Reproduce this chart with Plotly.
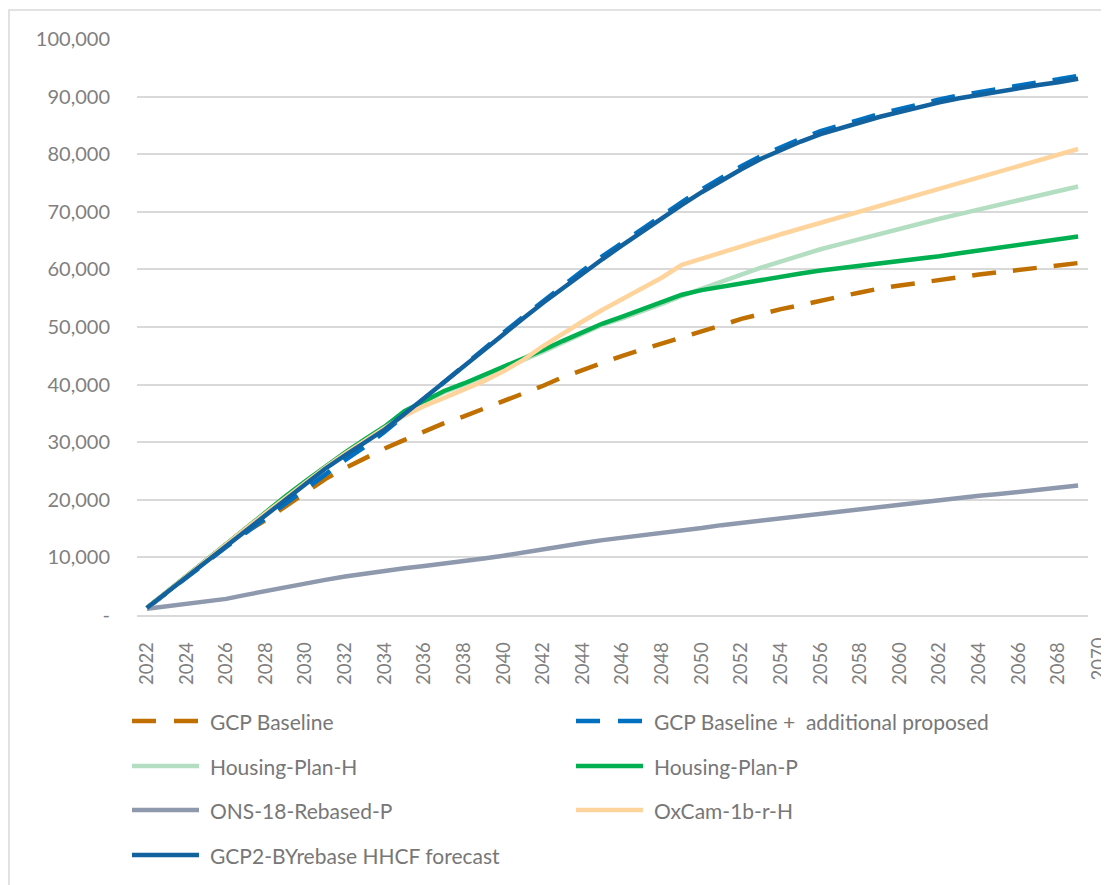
import plotly.graph_objects as go

years = list(range(2022, 2070))

gcp_baseline = [
    1200, 4000, 6700, 9400, 12000, 14400, 16500, 18800, 21300, 23600,
    25500, 27300, 28900, 30400, 31900, 33300, 34500, 35800, 37000, 38400,
    39800, 41300, 42600, 43900, 45000, 46100, 47100, 48100, 49200, 50300,
    51400, 52300, 53100, 53800, 54600, 55300, 56000, 56700, 57200, 57700,
    58200, 58700, 59100, 59500, 59900, 60300, 60700, 61100,
]
gcp_additional = [
    1200, 3900, 6600, 9300, 11800, 14300, 16800, 19400, 21900, 24500,
    26900, 29200, 31800, 34700, 37600, 40500, 43400, 46200, 49000, 51800,
    54500, 57200, 59800, 62300, 64700, 67100, 69400, 71700, 73900, 76000,
    77900, 79700, 81300, 82700, 84000, 85100, 86000, 87000, 87900, 88700,
    89500, 90200, 90800, 91400, 92000, 92500, 93000, 93600,
]
housing_h = [
    1200, 4000, 6800, 9600, 12400, 15200, 17900, 20600, 23200, 25800,
    28200, 30500, 32700, 35300, 37100, 38700, 40000, 41400, 42800, 44200,
    45700, 47300, 48900, 50400, 51500, 52700, 54000, 55400, 56700, 57900,
    59100, 60300, 61400, 62500, 63500, 64400, 65300, 66200, 67100, 68000,
    68800, 69600, 70400, 71200, 72000, 72800, 73600, 74400,
]
housing_p = [
    1200, 4000, 6800, 9600, 12400, 15200, 17900, 20600, 23200, 25800,
    28200, 30500, 32700, 35400, 37200, 38900, 40200, 41600, 43100, 44500,
    46000, 47600, 49200, 50600, 51800, 53000, 54200, 55600, 56400, 57000,
    57600, 58200, 58800, 59300, 59800, 60200, 60600, 61000, 61400, 61900,
    62300, 62800, 63300, 63800, 64300, 64800, 65200, 65700,
]
ons_rebased = [
    1100, 1500, 1900, 2300, 2800, 3500, 4200, 4900, 5500, 6100,
    6700, 7200, 7700, 8100, 8500, 8900, 9300, 9800, 10300, 10900,
    11400, 11900, 12500, 13000, 13400, 13900, 14300, 14700, 15100, 15600,
    16000, 16400, 16800, 17200, 17600, 18000, 18400, 18800, 19200, 19600,
    19900, 20300, 20700, 21000, 21400, 21800, 22100, 22500,
]
oxcam = [
    1200, 4000, 6700, 9500, 12300, 15000, 17700, 20400, 23000, 25600,
    28000, 30300, 32500, 34600, 36300, 37700, 39100, 40600, 42300, 44300,
    46700, 48900, 51000, 53000, 54900, 56700, 58600, 60800, 61900, 63000,
    64000, 65100, 66100, 67100, 68100, 69100, 70000, 71000, 72000, 73000,
    73900, 74900, 75900, 76900, 77900, 78900, 79900, 80900,
]
gcp2_hhcf = [
    1200, 3900, 6600, 9300, 12000, 14700, 17400, 20100, 22800, 25400,
    27700, 29900, 32200, 34900, 37700, 40500, 43300, 46000, 48800, 51500,
    54200, 56800, 59300, 61800, 64200, 66600, 68900, 71200, 73400, 75500,
    77400, 79200, 80800, 82200, 83500, 84600, 85500, 86500, 87400, 88200,
    89000, 89700, 90300, 90900, 91500, 92000, 92500, 93100,
]

series = [
    ("GCP Baseline", gcp_baseline, "#C07000", "24px,17px"),
    ("GCP Baseline + additional proposed", gcp_additional, "#0070C0", "24px,17px"),
    ("Housing-Plan-H", housing_h, "#B3DEC1", "solid"),
    ("Housing-Plan-P", housing_p, "#00B050", "solid"),
    ("ONS-18-Rebased-P", ons_rebased, "#8E99AD", "solid"),
    ("OxCam-1b-r-H", oxcam, "#FFD49C", "solid"),
    ("GCP2-BYrebase HHCF forecast", gcp2_hhcf, "#11629F", "solid"),
]
legend_labels = [
    "GCP Baseline", "GCP Baseline +  additional proposed", "Housing-Plan-H",
    "Housing-Plan-P", "ONS-18-Rebased-P", "OxCam-1b-r-H",
    "GCP2-BYrebase HHCF forecast",
]

# the page body adds an 8px margin, so work in screen pixels and subtract it
OFF = 8
W, H = 1109 - OFF, 885 - OFF
L, R, T, B = 137, 1088, 39, 615  # plot area, screen pixels


def px(x):
    return (x - L) / (R - L)


def py(y):
    return (B - y) / (B - T)


fig = go.Figure()
for name, vals, color, dash in series:
    fig.add_trace(
        go.Scatter(
            x=years,
            y=vals,
            mode="lines",
            name=name,
            line=dict(color=color, width=4.5, dash=dash),
            showlegend=False,
        )
    )

grey = "#7F7F7F"
ytick = list(range(0, 100001, 10000))
ytext = ["-" if v == 0 else f"{v:,}" for v in ytick]
xtick = list(range(2022, 2069, 2))

fig.update_layout(
    width=W,
    height=H,
    margin=dict(l=L - OFF, r=W - (R - OFF), t=T - OFF, b=H - (B - OFF)),
    paper_bgcolor="white",
    plot_bgcolor="white",
    font=dict(family="Lato, Open Sans, sans-serif", color=grey),
    xaxis=dict(
        range=[2021.5, 2069.5],
        tickvals=xtick,
        ticktext=[str(v) for v in xtick],
        tickangle=-90,
        tickfont=dict(size=18.5, color=grey),
        ticklabelstandoff=18,
        showgrid=False,
        showline=True,
        linecolor="#D9D9D9",
        linewidth=1.5,
        zeroline=False,
    ),
    yaxis=dict(
        range=[0, 100000],
        tickvals=ytick,
        ticktext=ytext,
        tickfont=dict(size=20, color=grey),
        ticklabelstandoff=26,
        showgrid=True,
        gridcolor="#D9D9D9",
        gridwidth=1.5,
        zeroline=False,
    ),
)

# chart border (cropped at right and bottom in the original)
fig.add_shape(
    type="rect", xref="paper", yref="paper",
    x0=px(9), x1=px(1125), y0=py(900), y1=py(10),
    line=dict(color="#D9D9D9", width=1.5), layer="below",
)

# last category label, partly outside the plot area
fig.add_annotation(
    xref="paper", yref="paper", x=px(1097), y=py(636),
    text="2070", textangle=-90, showarrow=False,
    xanchor="center", yanchor="top",
    font=dict(size=18.5, color=grey),
)

# legend, two columns
rows = [721, 766, 810, 855]
cols = [(132, 199, 208), (576, 643, 652)]
for i, (name, vals, color, dash) in enumerate(series):
    r, c = divmod(i, 2)
    x0, x1, xt = cols[c]
    y = rows[r]
    fig.add_shape(
        type="line", xref="paper", yref="paper",
        x0=px(x0), x1=px(x1), y0=py(y), y1=py(y),
        line=dict(color=color, width=4.5, dash="24px,18px" if dash != "solid" else "solid"),
    )
    fig.add_annotation(
        xref="paper", yref="paper", x=px(xt), y=py(y),
        text=legend_labels[i], showarrow=False,
        xanchor="left", yanchor="middle",
        font=dict(size=21, color="#777777"),
    )

fig.write_html("out.html")
